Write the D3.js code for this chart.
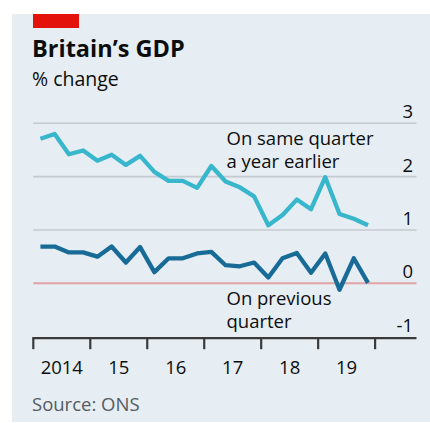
<!DOCTYPE html>
<html>
<head>
<meta charset="utf-8">
<script src="https://cdn.jsdelivr.net/npm/d3@7"></script>
<style>
  html, body { margin: 0; padding: 0; background: #ffffff; }
  svg { display: block; }
  text { font-family: "Open Sans", "Noto Sans", sans-serif; }
</style>
</head>
<body>
<svg id="chart" width="430" height="423"></svg>
<script>
// Quarterly GDP growth, 2014 Q1 – 2019 Q4
const quarters = [
  "2014Q1","2014Q2","2014Q3","2014Q4",
  "2015Q1","2015Q2","2015Q3","2015Q4",
  "2016Q1","2016Q2","2016Q3","2016Q4",
  "2017Q1","2017Q2","2017Q3","2017Q4",
  "2018Q1","2018Q2","2018Q3","2018Q4",
  "2019Q1","2019Q2","2019Q3","2019Q4"
];
// % change on same quarter a year earlier
const yearOnYear = [
  2.71, 2.80, 2.42, 2.49,
  2.30, 2.41, 2.22, 2.39,
  2.09, 1.92, 1.92, 1.79,
  2.20, 1.91, 1.80, 1.63,
  1.09, 1.28, 1.57, 1.39,
  1.99, 1.30, 1.21, 1.09
];
// % change on previous quarter
const quarterOnQuarter = [
  0.69, 0.69, 0.58, 0.58,
  0.50, 0.69, 0.39, 0.68,
  0.21, 0.47, 0.47, 0.56,
  0.59, 0.34, 0.32, 0.39,
  0.11, 0.47, 0.57, 0.20,
  0.56, -0.12, 0.47, 0.01
];
const yTicks = [3, 2, 1, 0, -1];
const yearTicks = [2014, 2015, 2016, 2017, 2018, 2019, 2020];
const yearLabels = ["2014", "15", "16", "17", "18", "19"];

const svg = d3.select("#chart");

// Panel background
svg.append("rect")
  .attr("x", 12).attr("y", 14)
  .attr("width", 418).attr("height", 408)
  .attr("fill", "#e6edf3");

// Red tag
svg.append("rect")
  .attr("x", 33).attr("y", 14)
  .attr("width", 46).attr("height", 14)
  .attr("fill", "#e3120b");

svg.append("text")
  .attr("x", 32).attr("y", 57)
  .attr("font-size", 23.5).attr("font-weight", 700)
  .attr("fill", "#0d0d0d")
  .text("Britain’s GDP");

svg.append("text")
  .attr("x", 32).attr("y", 86)
  .attr("font-size", 19.5)
  .attr("fill", "#0d0d0d")
  .text("% change");

const x = d3.scaleLinear().domain([2014, 2020.7]).range([33.3, 415]);
const y = d3.scaleLinear().domain([-1, 3]).range([336.7, 123.3]);

const qx = q => {
  const yr = +q.slice(0, 4), n = +q.slice(5);
  return x(yr + (n - 0.5) / 4);
};

// Horizontal gridlines
svg.append("g")
  .selectAll("line")
  .data(yTicks.filter(v => v > 0))
  .join("line")
  .attr("x1", x.range()[0]).attr("x2", 416.5)
  .attr("y1", d => y(d)).attr("y2", d => y(d))
  .attr("stroke", "#c4cad0").attr("stroke-width", 1.6);

// Zero line
svg.append("line")
  .attr("x1", x.range()[0]).attr("x2", 416.5)
  .attr("y1", y(0)).attr("y2", y(0))
  .attr("stroke", "#e2a3a8").attr("stroke-width", 2);

// Value labels on the right
svg.append("g")
  .selectAll("text")
  .data(yTicks)
  .join("text")
  .attr("x", 413)
  .attr("y", d => y(d) - 5)
  .attr("text-anchor", "end")
  .attr("font-size", 18.5)
  .attr("fill", "#0d0d0d")
  .text(d => d < 0 ? "-" + Math.abs(d) : d);

// Lines
const line = d3.line()
  .x((d, i) => qx(quarters[i]))
  .y(d => y(d))
  .curve(d3.curveLinear);

svg.append("path")
  .datum(yearOnYear)
  .attr("d", line)
  .attr("fill", "none")
  .attr("stroke", "#38b6cc")
  .attr("stroke-width", 4.3)
  .attr("stroke-linejoin", "round")
  .attr("stroke-linecap", "butt");

svg.append("path")
  .datum(quarterOnQuarter)
  .attr("d", line)
  .attr("fill", "none")
  .attr("stroke", "#176b96")
  .attr("stroke-width", 4.3)
  .attr("stroke-linejoin", "round")
  .attr("stroke-linecap", "butt");

// Series labels
const lab1 = svg.append("text")
  .attr("x", 226.5).attr("font-size", 18.5).attr("fill", "#0d0d0d");
lab1.append("tspan").attr("x", 226.5).attr("y", 145).text("On same quarter");
lab1.append("tspan").attr("x", 226.5).attr("y", 168).text("a year earlier");

const lab2 = svg.append("text")
  .attr("x", 226.5).attr("font-size", 18.5).attr("fill", "#0d0d0d");
lab2.append("tspan").attr("x", 226.5).attr("y", 304.5).text("On previous");
lab2.append("tspan").attr("x", 226.5).attr("y", 328).text("quarter");

// X axis
const axisY = y(-1) + 1.5;
svg.append("line")
  .attr("x1", x.range()[0] - 1).attr("x2", 416.5)
  .attr("y1", axisY).attr("y2", axisY)
  .attr("stroke", "#3a3a3a").attr("stroke-width", 2.2);

svg.append("g")
  .selectAll("line")
  .data(yearTicks)
  .join("line")
  .attr("x1", d => x(d)).attr("x2", d => x(d))
  .attr("y1", axisY).attr("y2", axisY + 11)
  .attr("stroke", "#3a3a3a").attr("stroke-width", 2.2);

svg.append("g")
  .selectAll("text")
  .data(yearLabels)
  .join("text")
  .attr("x", (d, i) => x(yearTicks[i] + 0.5))
  .attr("y", 374)
  .attr("text-anchor", "middle")
  .attr("font-size", 18.5)
  .attr("fill", "#0d0d0d")
  .text(d => d);

svg.append("text")
  .attr("x", 32).attr("y", 410.5)
  .attr("font-size", 18.5)
  .attr("fill", "#555b60")
  .text("Source: ONS");
</script>
</body>
</html>
